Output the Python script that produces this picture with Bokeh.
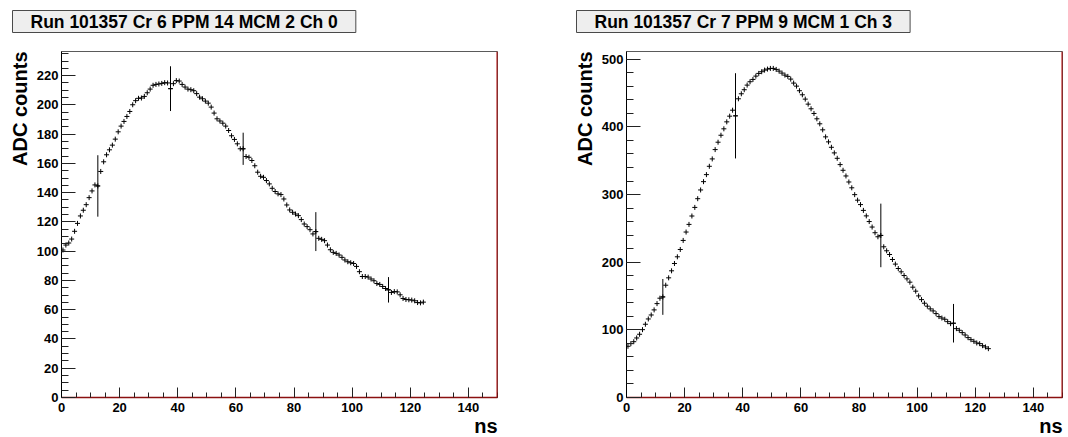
import numpy as np
from bokeh.plotting import figure
from bokeh.layouts import row
from bokeh.models import FixedTicker, Span, Range1d, Title
from bokeh.embed import file_html
from bokeh.resources import INLINE

# ---------------- data ----------------
titles = ["Run 101357 Cr 6 PPM 14 MCM 2 Ch 0", "Run 101357 Cr 7 PPM 9 MCM 1 Ch 3"]
y_axis_title = "ADC counts"
x_axis_title = "ns"

# bin centres (ns) of the fine pulse shape, 1 ns bins from 0 to 125 ns
t_fine = [i + 0.5 for i in range(125)]

adc_ch0 = [
    100.8, 104.2, 105.6, 108.3, 113.6, 119.0, 124.1, 128.0, 131.8, 136.6,
    141.2, 145.3, 144.6, 154.5, 161.1, 165.9, 169.3, 172.5, 176.6, 181.6,
    185.5, 188.7, 192.1, 195.5, 200.1, 202.9, 204.5, 204.7, 205.8, 208.3,
    210.8, 213.4, 214.0, 214.3, 214.7, 215.2, 215.0, 211.1, 214.5, 216.6,
    216.3, 214.0, 212.2, 210.8, 210.4, 209.7, 207.7, 205.3, 204.2, 202.6,
    201.2, 198.5, 194.4, 190.5, 189.0, 187.5, 185.5, 182.5, 178.9, 176.4,
    173.4, 170.0, 170.0, 164.7, 164.2, 162.0, 158.4, 154.0, 151.2, 150.5,
    148.3, 146.0, 143.0, 140.8, 139.2, 138.7, 135.7, 131.6, 128.2, 126.6,
    125.4, 124.3, 121.6, 118.6, 116.8, 114.7, 111.8, 113.4, 108.8, 108.1,
    107.2, 104.2, 101.0, 99.2, 98.5, 97.4, 95.8, 94.0, 92.8, 92.1,
    91.6, 89.6, 86.0, 82.7, 82.7, 82.3, 81.0, 79.8, 77.9, 77.3,
    75.9, 74.5, 73.6, 71.8, 72.4, 72.2, 70.2, 67.7, 67.0, 66.8,
    66.6, 66.1, 64.9, 64.7, 65.2,
]

adc_ch3 = [
    75.7, 79.6, 82.5, 88.0, 93.5, 100.3, 108.3, 116.1, 122.0, 129.5,
    138.8, 146.8, 148.7, 166.0, 176.9, 187.3, 198.1, 208.0, 218.8, 232.2,
    244.6, 255.9, 268.3, 281.0, 293.9, 306.8, 319.1, 329.5, 341.8, 352.7,
    366.5, 377.4, 387.7, 397.2, 407.5, 415.9, 424.7, 416.4, 441.6, 449.0,
    455.0, 461.8, 466.8, 470.2, 475.1, 479.1, 481.6, 484.0, 485.5, 486.5,
    486.5, 485.0, 482.5, 479.6, 476.6, 474.7, 470.7, 464.8, 460.3, 453.5,
    447.5, 441.1, 433.7, 426.8, 419.9, 412.0, 404.6, 395.7, 385.3, 377.9,
    369.9, 361.6, 353.6, 344.3, 335.9, 327.5, 318.6, 310.0, 299.9, 291.7,
    285.2, 276.6, 268.5, 260.1, 252.0, 243.6, 237.6, 239.6, 222.8, 216.9,
    211.4, 204.0, 197.2, 190.7, 185.8, 180.3, 175.4, 170.5, 163.1, 157.2,
    150.2, 144.7, 139.4, 135.0, 131.0, 128.0, 124.0, 119.6, 117.5, 115.7,
    112.1, 109.2, 109.8, 101.8, 99.4, 95.9, 92.4, 88.5, 85.5, 83.1,
    80.6, 79.6, 76.6, 74.7, 72.2,
]

# ADC samples (25 ns apart) with their error bars
t_samp_ch0 = [12.5, 37.5, 62.5, 87.5, 112.5]
adc_samp_ch0 = [144.6, 211.1, 170.0, 113.4, 73.6]
err_samp_ch0 = [21.0, 15.3, 11.0, 13.3, 8.7]

t_samp_ch3 = [12.5, 37.5, 87.5, 112.5]
adc_samp_ch3 = [148.7, 416.4, 239.6, 109.8]
err_samp_ch3 = [26.5, 63.0, 47.0, 28.5]

x_ticks = [0, 20, 40, 60, 80, 100, 120, 140]
y_ticks_ch0 = [0, 20, 40, 60, 80, 100, 120, 140, 160, 180, 200, 220]
y_ticks_ch3 = [0, 100, 200, 300, 400, 500]

# ---------------- layout ----------------
FONT = "Liberation Sans"
FH = 346
SHIFT = 10   # extra top border, hidden again with a negative layout margin


def panel(title, ymax, yticks, yminor, adc, ts, ys, es, bl, br, title_offset):
    p = figure(frame_width=436, frame_height=FH,
               min_border_left=bl, min_border_right=br,
               min_border_top=51 + SHIFT, min_border_bottom=40,
               x_range=Range1d(0, 150), y_range=Range1d(0, ymax),
               output_backend="svg", toolbar_location=None, tools="")
    p.xgrid.visible = False
    p.ygrid.visible = False
    p.background_fill_color = "white"
    p.border_fill_color = "white"
    p.outline_line_color = "#5a5a5a"
    p.outline_line_width = 1

    for ax in (p.xaxis[0], p.yaxis[0]):
        ax.major_label_text_font = FONT
        ax.major_label_text_font_style = "bold"
        ax.major_label_text_font_size = "13px"
        ax.major_label_text_color = "black"
        ax.major_tick_out = 0
        ax.minor_tick_out = 0
        ax.major_tick_line_color = "#222222"
        ax.minor_tick_line_color = "#222222"

    xa = p.xaxis[0]
    xa.ticker = FixedTicker(ticks=x_ticks, minor_ticks=list(range(0, 151, 5)))
    xa.major_tick_in = 10
    xa.minor_tick_in = 5
    xa.major_label_standoff = 5
    xa.axis_line_color = "#8b1010"
    xa.axis_line_width = 1.5

    ya = p.yaxis[0]
    ya.ticker = FixedTicker(ticks=yticks, minor_ticks=yminor)
    ya.major_tick_in = 14
    ya.minor_tick_in = 7
    ya.major_label_standoff = 3
    ya.axis_line_color = "black"

    # red right edge of the frame
    p.add_layout(Span(location=150, dimension="height", line_color="#b00000", line_width=2))

    # fine pulse points
    p.scatter(t_fine, adc, marker="cross", size=5, line_color="black", line_width=1)

    # sample error bars
    ys_a = np.array(ys)
    es_a = np.array(es)
    p.segment(x0=ts, y0=list(ys_a - es_a), x1=ts, y1=list(ys_a + es_a), line_color="black", line_width=1)
    p.scatter(ts, ys, marker="dash", size=4, line_color="black", line_width=1)

    # title box
    p.title.text = title
    p.title.align = "left"
    p.title.vertical_align = "top"
    p.title.offset = title_offset
    p.title.standoff = 34
    p.title.text_font = FONT
    p.title.text_font_style = "bold"
    p.title.text_font_size = "17.5px"
    p.title.text_color = "black"
    p.title.background_fill_color = "#eeeeee"
    p.title.border_line_color = "#4a4a4a"
    p.title.padding = (18, 1)

    # axis titles
    p.add_layout(Title(text=y_axis_title, align="right", standoff=6,
                       text_font=FONT, text_font_style="bold", text_font_size="20px",
                       text_color="black"), "left")
    p.add_layout(Title(text=x_axis_title, align="right", standoff=-3,
                       text_font=FONT, text_font_style="bold", text_font_size="20px",
                       text_color="black"), "below")
    return p


p1 = panel(titles[0], 236.5, y_ticks_ch0, list(range(0, 236, 5)), adc_ch0,
           t_samp_ch0, adc_samp_ch0, err_samp_ch0, 61, 51, -49)
p2 = panel(titles[1], 511.5, y_ticks_ch3, list(range(0, 511, 20)), adc_ch3,
           t_samp_ch3, adc_samp_ch3, err_samp_ch3, 78, 6, -50)

layout = row(p1, p2)
layout.margin = (-SHIFT, 0, 0, 0)
open("out.html", "w").write(file_html(layout, INLINE))
